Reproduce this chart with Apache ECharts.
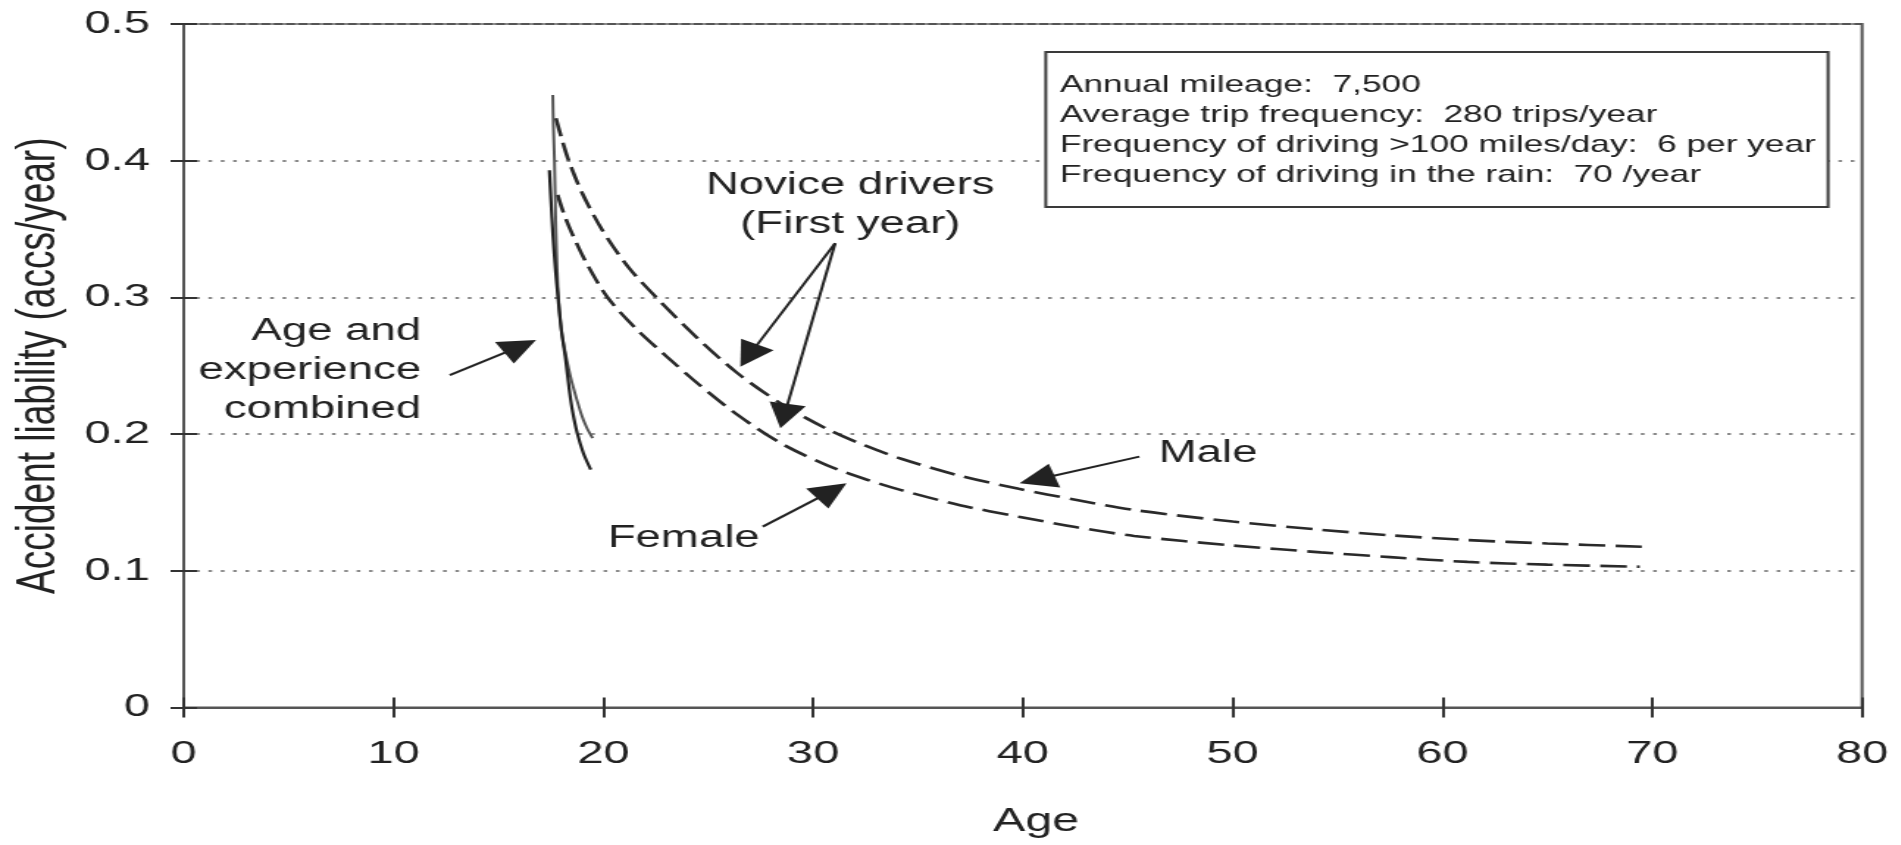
<!DOCTYPE html>
<html><head><meta charset="utf-8">
<script src="https://cdn.jsdelivr.net/npm/echarts@6/dist/echarts.min.js"></script>
<style>
html,body{margin:0;padding:0;background:#fff;overflow:hidden;}
#wrap{width:1901px;height:845px;overflow:hidden;}
#chart{width:1293px;height:845px;transform:scaleX(1.47);transform-origin:0 0;}
</style></head>
<body><div id="wrap"><div id="chart"></div></div>
<script>
// ---- data ----
const maleNoviceAge = [17.74, 18.0, 18.35, 19.0, 19.96, 21.2, 22.65, 24.5, 26.4, 28.5, 30.7, 32.5, 34.2, 37.0, 39.8, 42.5, 45.3, 50.0, 54.2, 57.5, 61.2, 65.0, 69.5];
const maleNoviceRate = [0.431, 0.417, 0.400, 0.376, 0.349, 0.322, 0.298, 0.270, 0.2445, 0.222, 0.2035, 0.1915, 0.182, 0.1695, 0.160, 0.152, 0.1445, 0.136, 0.130, 0.126, 0.1225, 0.120, 0.1176];

const femaleNoviceAge = [17.82, 18.1, 18.5, 19.2, 20.2, 21.5, 23.0, 24.5, 26.4, 28.5, 30.7, 32.5, 34.2, 37.0, 39.8, 42.5, 45.3, 50.0, 54.2, 57.5, 61.2, 65.0, 69.4];
const femaleNoviceRate = [0.375, 0.362, 0.347, 0.325, 0.300, 0.278, 0.257, 0.237, 0.214, 0.193, 0.177, 0.167, 0.159, 0.148, 0.1396, 0.132, 0.1255, 0.1185, 0.1135, 0.110, 0.1065, 0.1045, 0.103];

const maleCombinedAge = [17.59, 17.62, 17.67, 17.74, 17.84, 18.0, 18.22, 18.5, 18.93, 19.2, 19.49];
const maleCombinedRate = [0.448, 0.425, 0.400, 0.350, 0.305, 0.276, 0.257, 0.238, 0.2155, 0.205, 0.197];

const femaleCombinedAge = [17.43, 17.5, 17.6, 17.72, 17.84, 18.0, 18.2, 18.38, 18.54, 18.75, 19.05, 19.4];
const femaleCombinedRate = [0.393, 0.372, 0.345, 0.320, 0.300, 0.276, 0.255, 0.232, 0.216, 0.201, 0.186, 0.174];

const infoLines = [
  'Annual mileage:  7,500',
  'Average trip frequency:  280 trips/year',
  'Frequency of driving >100 miles/day:  6 per year',
  'Frequency of driving in the rain:  70 /year'
];
const annotationTexts = ['Age and\nexperience\ncombined', 'Novice drivers\n(First year)', 'Male', 'Female'];

// ---- layout (data-space anchors for annotations) ----
const annotationAnchors = [[11.32, 0.2462], [31.77, 0.3676], [46.47, 0.1862], [23.83, 0.124]];
const annotationAlign = ['right', 'center', 'left', 'center'];
const arrows = [
  [[12.68, 0.2432], [16.79, 0.2688]],
  [[31.05, 0.3396], [26.53, 0.2493]],
  [[31.05, 0.3396], [28.44, 0.2042]],
  [[45.55, 0.1835], [39.84, 0.1640]],
  [[27.6, 0.1323], [31.59, 0.1640]]
];
const boxCorners = [[41.09, 0.4795], [78.38, 0.3661]];
const boxTextAnchor = [41.76, 0.4664];
const HEAD = 25;

const FONT = '"Liberation Sans", Arial, Helvetica, sans-serif';
const TXT = '#222';
const pts = (a, v) => a.map((x, i) => [x, v[i]]);

const chart = echarts.init(document.getElementById('chart'));
const baseLine = {type: 'line', showSymbol: false, silent: true, animation: false, xAxisIndex: 0, yAxisIndex: 0};

chart.setOption({
  animation: false,
  backgroundColor: '#fff',
  grid: {left: 122.4, right: 26.3, top: 24, bottom: 137.5, show: true, borderColor: '#555', borderWidth: 2, containLabel: false},
  xAxis: [{
    type: 'value', min: 0, max: 80, interval: 10,
    name: 'Age', nameLocation: 'middle', nameGap: 98,
    nameTextStyle: {fontSize: 33, color: TXT, fontFamily: FONT, padding: [0, 0, 0, 18]},
    axisLine: {show: true, onZero: false, lineStyle: {color: '#555', width: 2}},
    axisTick: {show: true, inside: false, length: 10, lineStyle: {color: '#333', width: 2}},
    axisLabel: {fontSize: 32, color: TXT, fontFamily: FONT, margin: 31},
    splitLine: {show: false}
  }, {
    type: 'value', min: 0, max: 80, interval: 10, position: 'bottom',
    axisLine: {show: false}, axisTick: {show: true, inside: true, length: 10, lineStyle: {color: '#333', width: 2}},
    axisLabel: {show: false}, splitLine: {show: false}
  }],
  yAxis: [{
    type: 'value', min: 0, max: 0.5, interval: 0.1,
    name: 'Accident liability (accs/year)', nameLocation: 'middle', nameGap: 80,
    nameTextStyle: {fontSize: 37, color: TXT, fontFamily: FONT},
    axisLine: {show: true, onZero: false, lineStyle: {color: '#555', width: 2}},
    axisTick: {show: true, inside: false, length: 9, lineStyle: {color: '#333', width: 2}},
    axisLabel: {fontSize: 32, color: TXT, fontFamily: FONT, margin: 23},
    splitLine: {show: true, lineStyle: {color: '#8a8a8a', width: 2, type: [2.5, 5.9]}}
  }, {
    type: 'value', min: 0, max: 0.5, interval: 0.1, position: 'left',
    axisLine: {show: false}, axisTick: {show: true, inside: true, length: 9, lineStyle: {color: '#333', width: 2}},
    axisLabel: {show: false}, splitLine: {show: false}
  }],
  series: [
    Object.assign({}, baseLine, {name: 'Male novice', data: pts(maleNoviceAge, maleNoviceRate), smooth: 0.3,
      lineStyle: {color: '#2a2a2a', width: 2.6, type: [18, 7]}}),
    Object.assign({}, baseLine, {name: 'Female novice', data: pts(femaleNoviceAge, femaleNoviceRate), smooth: 0.3,
      lineStyle: {color: '#2a2a2a', width: 2.6, type: [18, 7]}}),
    Object.assign({}, baseLine, {name: 'Male combined', data: pts(maleCombinedAge, maleCombinedRate), smooth: 0.3,
      lineStyle: {color: '#555', width: 2, type: 'solid'}}),
    Object.assign({}, baseLine, {name: 'Female combined', data: pts(femaleCombinedAge, femaleCombinedRate), smooth: 0.3,
      lineStyle: {color: '#222', width: 2.2, type: 'solid'}})
  ]
});

const P = (d) => chart.convertToPixel({gridIndex: 0}, d);
const D = (p) => chart.convertFromPixel({gridIndex: 0}, p);

// arrows: pull the end back by half the head so the triangle's tip lands on the anchor
const arrowData = arrows.map(a => {
  const p0 = P(a[0]), p1 = P(a[1]);
  const dx = p1[0] - p0[0], dy = p1[1] - p0[1], L = Math.hypot(dx, dy);
  const q = [p1[0] - dx / L * HEAD / 2, p1[1] - dy / L * HEAD / 2];
  return [{coord: a[0]}, {coord: D(q)}];
});

const g = [];
annotationTexts.forEach((t, i) => {
  const p = P(annotationAnchors[i]);
  g.push({type: 'text', x: p[0], y: p[1], z: 100, silent: true,
    style: {text: t, fill: TXT, fontSize: 31, fontFamily: FONT, align: annotationAlign[i], verticalAlign: 'middle', lineHeight: 39}});
});
const b0 = P(boxCorners[0]), b1 = P(boxCorners[1]);
g.push({type: 'rect', z: 100, silent: true, shape: {x: b0[0], y: b0[1], width: b1[0] - b0[0], height: b1[1] - b0[1]},
  style: {fill: '#fff', stroke: '#3a3a3a', lineWidth: 2}});
const bt = P(boxTextAnchor);
g.push({type: 'text', z: 101, silent: true, x: bt[0], y: bt[1],
  style: {text: infoLines.join('\n'), fill: TXT, fontSize: 24, fontFamily: FONT, align: 'left', verticalAlign: 'top', lineHeight: 30}});

chart.setOption({
  graphic: g,
  series: [{
    markLine: {
      silent: true, animation: false, symbol: ['none', 'triangle'], symbolSize: HEAD,
      label: {show: false}, emphasis: {disabled: true},
      lineStyle: {type: 'solid', color: '#222', width: 2},
      itemStyle: {color: '#222'},
      data: arrowData
    }
  }]
});
</script>
</body></html>
